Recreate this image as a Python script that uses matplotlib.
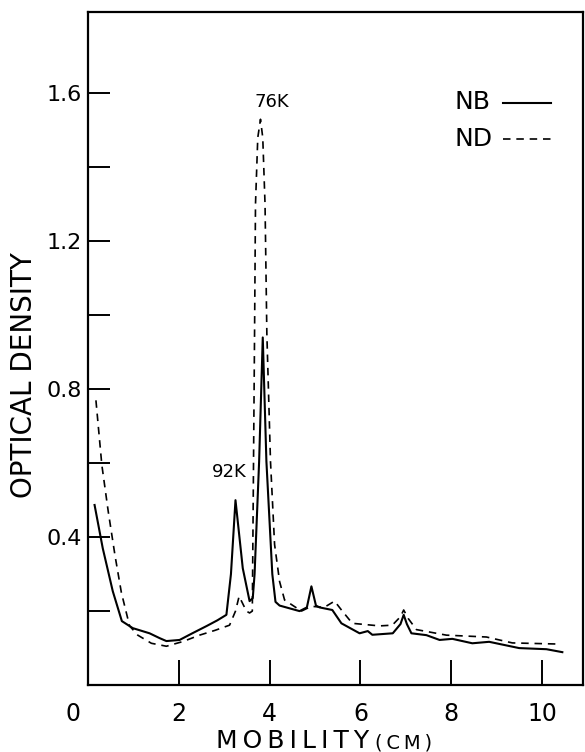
"""Densitometer scan: optical density vs mobility for NB and ND samples."""

import matplotlib
matplotlib.use("Agg")
import matplotlib.pyplot as plt
import matplotlib.transforms as mtransforms
from matplotlib.ticker import FixedLocator, FuncFormatter

# --- data ---------------------------------------------------------------
nb_x = [0.15, 0.33, 0.55, 0.75, 0.99, 1.36, 1.58, 1.73, 2.02, 2.30, 2.62, 2.85,
        3.05, 3.15, 3.25, 3.41, 3.56, 3.63, 3.67, 3.77, 3.85, 3.93, 4.06, 4.13,
        4.22, 4.66, 4.82, 4.92, 5.02, 5.10, 5.38, 5.58, 5.98, 6.16, 6.26, 6.71,
        6.88, 6.95, 7.02, 7.12, 7.45, 7.74, 8.02, 8.46, 8.83, 9.49, 10.09, 10.44]
nb_y = [0.487, 0.37, 0.254, 0.173, 0.154, 0.14, 0.127, 0.119, 0.122, 0.14, 0.16, 0.175,
        0.19, 0.30, 0.50, 0.316, 0.227, 0.235, 0.30, 0.605, 0.94, 0.605, 0.30, 0.225,
        0.215, 0.20, 0.21, 0.267, 0.215, 0.21, 0.203, 0.167, 0.14, 0.146, 0.136, 0.14,
        0.165, 0.19, 0.165, 0.14, 0.135, 0.122, 0.125, 0.113, 0.117, 0.10, 0.097, 0.089]

nd_x = [0.18, 0.31, 0.45, 0.60, 0.74, 0.92, 1.10, 1.40, 1.73, 2.10, 2.46, 2.80,
        3.12, 3.25, 3.33, 3.49, 3.56, 3.62, 3.64, 3.67, 3.69, 3.74, 3.80, 3.85,
        3.90, 3.94, 4.02, 4.11, 4.22, 4.33, 4.70, 4.92, 5.20, 5.43, 5.60, 5.82,
        6.42, 6.70, 6.88, 6.95, 7.05, 7.23, 7.89, 8.77, 9.34, 10.33]
nd_y = [0.77, 0.595, 0.47, 0.35, 0.25, 0.16, 0.135, 0.113, 0.105, 0.118, 0.135, 0.148,
        0.162, 0.20, 0.24, 0.20, 0.195, 0.20, 0.50, 0.96, 1.30, 1.48, 1.53, 1.48,
        1.30, 0.95, 0.605, 0.38, 0.28, 0.23, 0.20, 0.213, 0.21, 0.227, 0.20, 0.167,
        0.16, 0.162, 0.185, 0.203, 0.18, 0.15, 0.135, 0.13, 0.114, 0.111]

peak_labels = ["92K", "76K"]
peak_pos = [(3.11, 0.576), (4.04, 1.578)]

x_ticks = [2, 4, 6, 8, 10]
y_ticks = [0.2, 0.4, 0.6, 0.8, 1.0, 1.2, 1.4, 1.6]

plt.rcParams["font.family"] = ["DejaVu Sans"]
DASH = (0, (4.5, 3.5))

fig = plt.figure(figsize=(5.85, 7.52), dpi=100)
ax = fig.add_axes([0.150, 0.089, 0.847, 0.895])

ax.plot(nb_x, nb_y, color="black", lw=1.5, label="NB")
ax.plot(nd_x, nd_y, color="black", lw=1.2, ls=DASH, label="ND")

ax.set_xlim(0, 10.9)
ax.set_ylim(0, 1.82)

ax.set_xticks(x_ticks)
ax.yaxis.set_major_locator(FixedLocator(y_ticks))
ax.yaxis.set_major_formatter(
    FuncFormatter(lambda v, _: f"{v:.1f}" if round(v * 10) % 4 == 0 else ""))
ax.tick_params(direction="in", length=16, width=1.4)
ax.tick_params(axis="y", labelsize=16, pad=4)
ax.tick_params(axis="x", labelsize=17, length=18, pad=12)
for s in ax.spines.values():
    s.set_linewidth(1.6)

# the "0" sits left of the corner in the original
trans = mtransforms.blended_transform_factory(ax.transData, ax.transAxes)
ax.text(-0.33, -0.025, "0", transform=trans, ha="center", va="top", fontsize=17)

# axis titles, spaced out like the hand lettering
ts = "\u2009"
ax.text(6.2, -0.094, ts.join("MOBILITY"), transform=trans, ha="right",
        va="baseline", fontsize=18)
ax.text(6.31, -0.094, ts.join("(CM)"), transform=trans, ha="left",
        va="baseline", fontsize=14)
ax.text(-0.129, 0.461, "OPTICAL DENSITY", transform=ax.transAxes, rotation=90,
        ha="center", va="center", fontsize=20)

for lab, (px, py) in zip(peak_labels, peak_pos):
    ax.text(px, py, lab, fontsize=13, ha="center", va="center")

ax.text(8.07, 1.578, "NB", fontsize=18, ha="left", va="center")
ax.text(8.07, 1.478, "ND", fontsize=18, ha="left", va="center")
ax.plot([9.14, 10.2], [1.573, 1.573], color="black", lw=1.5)
ax.plot([9.14, 10.2], [1.478, 1.478], color="black", lw=1.2, ls=DASH)

fig.savefig("out.png", dpi=100)
